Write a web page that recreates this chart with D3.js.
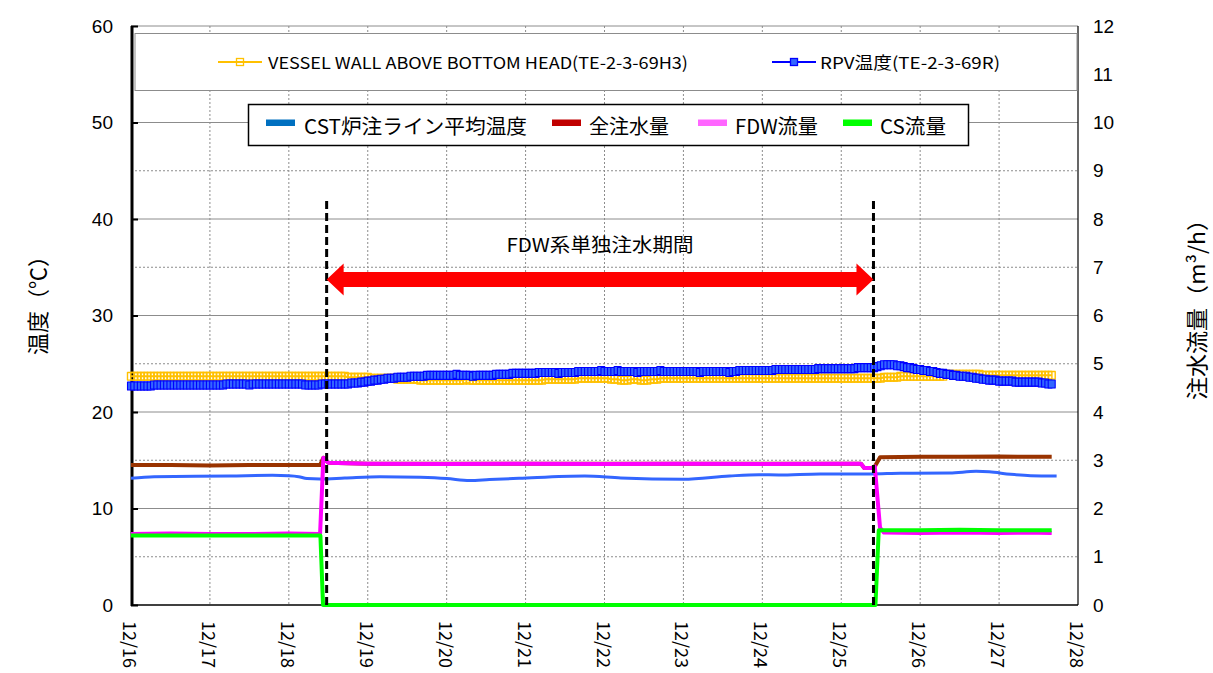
<!DOCTYPE html>
<html>
<head>
<meta charset="utf-8">
<script src="https://cdn.jsdelivr.net/npm/d3@7"></script>
<style>
  body { margin: 0; background: #ffffff; }
  text { font-family: "Noto Sans CJK JP", "Noto Sans", sans-serif; fill: #000; }
  .num { font-family: "Liberation Sans", Arial, sans-serif; }
</style>
</head>
<body>
<svg id="chart" width="1213" height="673"></svg>
<script>
// ---- data (time in hours from 12/16 00:00) ----
const dayLabels = ["12/16","12/17","12/18","12/19","12/20","12/21","12/22","12/23","12/24","12/25","12/26","12/27","12/28"];
const tempTicks = [0, 10, 20, 30, 40, 50, 60];
const flowTicks = [0, 1, 2, 3, 4, 5, 6, 7, 8, 9, 10, 11, 12];

// FDW-only injection period (start / end, hours)
const periodHours = [59.5, 225.8];
const periodLabel = "FDW系単独注水期間";

// RPV temperature TE-2-3-69R, hourly from 0 h to 280 h
const rpvTemp = [
  22.7,22.7,22.7,22.7,22.7,22.7,22.7,22.8,22.8,22.8,22.8,22.8,22.8,22.8,22.8,22.8,22.8,22.8,22.8,22.8,22.8,22.8,22.8,22.8,
  22.8,22.8,22.8,22.8,22.8,22.9,22.9,22.9,22.9,22.9,22.9,22.9,22.8,22.9,22.9,22.9,22.9,22.9,22.9,22.9,22.9,22.9,22.9,22.9,
  22.9,22.9,22.9,22.9,22.9,22.8,22.8,22.8,22.8,22.8,22.9,22.9,22.9,22.9,22.9,22.9,22.9,22.9,22.9,23.0,23.0,23.0,23.1,23.1,
  23.2,23.2,23.3,23.3,23.4,23.4,23.5,23.5,23.5,23.6,23.6,23.6,23.6,23.7,23.7,23.7,23.7,23.7,23.8,23.8,23.8,23.8,23.8,23.8,
  23.8,23.8,23.8,23.9,23.8,23.8,23.8,23.8,23.7,23.8,23.8,23.8,23.8,23.8,23.8,23.9,23.9,23.9,23.9,23.9,24.0,24.0,24.0,24.0,
  24.0,24.0,24.0,24.0,24.1,24.1,24.1,24.1,24.1,24.1,24.0,24.1,24.1,24.1,24.1,24.1,24.2,24.2,24.2,24.2,24.2,24.2,24.2,24.3,
  24.2,24.2,24.2,24.2,24.3,24.2,24.2,24.2,24.2,24.2,24.1,24.2,24.2,24.2,24.2,24.2,24.2,24.3,24.2,24.2,24.2,24.2,24.2,24.2,
  24.2,24.2,24.2,24.2,24.2,24.1,24.2,24.2,24.2,24.2,24.2,24.2,24.2,24.2,24.1,24.2,24.2,24.3,24.3,24.3,24.3,24.3,24.3,24.3,
  24.3,24.3,24.3,24.3,24.4,24.4,24.4,24.4,24.4,24.4,24.4,24.4,24.4,24.4,24.4,24.4,24.4,24.5,24.5,24.5,24.5,24.5,24.5,24.5,
  24.5,24.5,24.5,24.5,24.5,24.6,24.6,24.6,24.6,24.6,24.6,24.7,24.8,24.9,24.9,24.9,24.9,24.8,24.8,24.7,24.6,24.6,24.5,24.4,
  24.4,24.3,24.3,24.2,24.2,24.1,24.0,24.0,23.9,23.9,23.8,23.8,23.7,23.7,23.7,23.6,23.6,23.5,23.5,23.4,23.4,23.3,23.3,23.3,
  23.2,23.2,23.2,23.2,23.2,23.1,23.1,23.1,23.1,23.1,23.1,23.1,23.1,23.0,23.0,22.9,22.9
];

// Vessel wall above bottom head TE-2-3-69H3, hourly from 0 h to 280 h
const vesselTemp = [
  23.7,23.7,23.7,23.7,23.7,23.7,23.7,23.7,23.7,23.7,23.7,23.7,23.7,23.7,23.7,23.7,23.7,23.7,23.7,23.7,23.7,23.7,23.7,23.7,
  23.7,23.7,23.7,23.7,23.7,23.7,23.7,23.7,23.7,23.7,23.7,23.7,23.7,23.7,23.7,23.7,23.7,23.7,23.7,23.7,23.7,23.7,23.7,23.7,
  23.7,23.7,23.7,23.7,23.7,23.7,23.7,23.7,23.7,23.7,23.7,23.7,23.7,23.7,23.7,23.7,23.7,23.7,23.6,23.6,23.6,23.6,23.6,23.6,
  23.6,23.5,23.5,23.5,23.5,23.5,23.5,23.5,23.5,23.4,23.4,23.4,23.4,23.4,23.4,23.4,23.3,23.3,23.3,23.3,23.3,23.3,23.3,23.3,
  23.3,23.3,23.3,23.3,23.3,23.3,23.4,23.3,23.3,23.3,23.3,23.3,23.3,23.3,23.3,23.3,23.3,23.3,23.3,23.3,23.3,23.3,23.3,23.3,
  23.3,23.3,23.3,23.3,23.3,23.3,23.4,23.4,23.4,23.4,23.4,23.4,23.4,23.4,23.4,23.4,23.5,23.5,23.5,23.5,23.5,23.5,23.5,23.5,
  23.5,23.5,23.4,23.4,23.4,23.3,23.3,23.3,23.4,23.4,23.4,23.3,23.3,23.3,23.4,23.4,23.4,23.5,23.5,23.5,23.5,23.5,23.5,23.5,
  23.5,23.5,23.5,23.5,23.5,23.5,23.5,23.5,23.5,23.5,23.5,23.5,23.5,23.5,23.5,23.5,23.5,23.5,23.5,23.5,23.5,23.5,23.5,23.5,
  23.5,23.5,23.5,23.5,23.5,23.5,23.5,23.5,23.5,23.5,23.5,23.5,23.5,23.5,23.5,23.5,23.5,23.5,23.5,23.5,23.5,23.5,23.5,23.5,
  23.5,23.5,23.5,23.5,23.5,23.5,23.5,23.5,23.5,23.5,23.5,23.5,23.5,23.6,23.6,23.6,23.6,23.6,23.7,23.7,23.7,23.7,23.7,23.7,
  23.7,23.7,23.7,23.7,23.7,23.7,23.7,23.7,23.9,23.9,23.9,23.9,23.9,23.9,23.9,23.9,23.9,23.9,23.9,23.8,23.8,23.8,23.8,23.8,
  23.8,23.8,23.8,23.8,23.8,23.8,23.8,23.8,23.8,23.8,23.8,23.8,23.8,23.8,23.8,23.8,23.8
];

// CST injection line average temperature (°C)
const cstHours = [0,7,30,43,48,51,53.5,57.5,65,75.7,88,96,103,109,118,138,149,168,182,191,197,209.6,224.8,234,249,257,261,267.5,273.6,281.5];
const cstTemp  = [13.13,13.3,13.37,13.44,13.4,13.3,13.1,13.06,13.16,13.3,13.23,13.1,12.9,13.0,13.13,13.37,13.16,13.03,13.37,13.5,13.47,13.58,13.58,13.65,13.68,13.85,13.8,13.54,13.4,13.37];

// total injection flow (m3/h)
const totalHours = [0,12,24,36,48,57.5,58.5,60,72,96,120,144,168,192,216,222,223,225.3,226.2,227.8,240,252,264,272,280];
const totalFlow  = [2.90,2.90,2.89,2.90,2.90,2.90,3.05,2.95,2.93,2.93,2.93,2.93,2.93,2.93,2.93,2.93,2.84,2.84,2.87,3.06,3.07,3.07,3.08,3.07,3.07];

// FDW flow (m3/h)
const fdwHours = [0,12,24,36,48,57.5,58.5,60,72,96,120,144,168,192,216,222,223,225.3,226.2,227.8,229,240,252,264,272,280];
const fdwFlow  = [1.47,1.48,1.47,1.47,1.48,1.47,3.05,2.95,2.93,2.92,2.93,2.92,2.93,2.92,2.93,2.93,2.84,2.84,2.87,1.60,1.50,1.49,1.50,1.49,1.50,1.49];

// CS flow (m3/h)
const csHours = [0,12,24,36,48,57.6,58.4,72,120,168,216,226.4,227.4,240,252,264,280];
const csFlow  = [1.44,1.44,1.44,1.44,1.44,1.44,0,0,0,0,0,0,1.55,1.55,1.56,1.55,1.55];

const legendTopLabels = ["VESSEL WALL ABOVE BOTTOM HEAD(TE-2-3-69H3)", "RPV温度(TE-2-3-69R)"];
const legendBottomLabels = ["CST炉注ライン平均温度", "全注水量", "FDW流量", "CS流量"];
const yTitleLeft = "温度（℃）";
const yTitleRight = "注水流量（m³/h）";

// ---- layout ----
const svg = d3.select("#chart");
const plot = { left: 131, right: 1078, top: 26, bottom: 605 };

const x = d3.scaleLinear().domain([0, 288]).range([plot.left, plot.right]);
const yT = d3.scaleLinear().domain([0, 60]).range([plot.bottom, plot.top]);
const yF = d3.scaleLinear().domain([0, 12]).range([plot.bottom, plot.top]);

// grid: horizontal (solid on whole 10 °C, dotted on halves), vertical dotted per day
const grid = svg.append("g");
flowTicks.filter(v => v > 0).forEach(v => {
  grid.append("line")
    .attr("x1", plot.left).attr("x2", plot.right)
    .attr("y1", yF(v)).attr("y2", yF(v))
    .attr("stroke", "#8c8c8c")
    .attr("stroke-width", 1)
    .attr("stroke-dasharray", v % 2 === 0 ? null : "2,2");
});
dayLabels.forEach((d, i) => {
  if (i === 0 || i === dayLabels.length - 1) return;
  grid.append("line")
    .attr("x1", x(i * 24)).attr("x2", x(i * 24))
    .attr("y1", plot.top).attr("y2", plot.bottom)
    .attr("stroke", "#8c8c8c")
    .attr("stroke-width", 1)
    .attr("stroke-dasharray", "2,2");
});

// axes
const axL = svg.append("g").attr("transform", `translate(${plot.left},0)`)
  .call(d3.axisLeft(yT).tickValues(tempTicks).tickSize(-7).tickPadding(18).tickFormat(d3.format("d")));
axL.select(".domain").remove();
axL.selectAll(".tick line").attr("stroke", "#000").attr("stroke-width", 2);
axL.selectAll("text").attr("class", "num").style("font-size", "19px").attr("fill", "#000");
svg.append("line").attr("x1", plot.left + 1).attr("x2", plot.left + 1)
  .attr("y1", plot.top).attr("y2", plot.bottom + 1)
  .attr("stroke", "#000").attr("stroke-width", 3);

const axR = svg.append("g").attr("transform", `translate(${plot.right},0)`)
  .call(d3.axisRight(yF).tickValues(flowTicks).tickSize(0).tickPadding(15).tickFormat(d3.format("d")));
axR.select(".domain").remove();
axR.selectAll("text").attr("class", "num").style("font-size", "19px").attr("fill", "#000");
svg.append("line").attr("x1", plot.right).attr("x2", plot.right)
  .attr("y1", plot.top).attr("y2", plot.bottom)
  .attr("stroke", "#000").attr("stroke-width", 1.2);

svg.append("line").attr("x1", plot.left).attr("x2", plot.right)
  .attr("y1", plot.bottom).attr("y2", plot.bottom)
  .attr("stroke", "#000").attr("stroke-width", 1.5);

// day labels, rotated to read downward
svg.append("g").selectAll("text").data(dayLabels).join("text")
  .attr("transform", (d, i) => `translate(${x(i * 24)},621) rotate(90)`)
  .attr("dominant-baseline", "central")
  .style("font-size", "18px")
  .text(d => d);

// axis titles
svg.append("text")
  .attr("transform", "translate(36,300) rotate(-90)")
  .attr("text-anchor", "middle").attr("dominant-baseline", "central")
  .style("font-size", "22px")
  .attr("textLength", 110).attr("lengthAdjust", "spacingAndGlyphs")
  .text(yTitleLeft);
svg.append("text")
  .attr("transform", "translate(1195,304) rotate(-90)")
  .attr("text-anchor", "middle").attr("dominant-baseline", "central")
  .style("font-size", "22px")
  .attr("textLength", 192).attr("lengthAdjust", "spacingAndGlyphs")
  .text(yTitleRight);

// ---- series ----
const toPts = (hs, vs) => hs.map((h, i) => [h, vs[i]]);
const hourly = vs => vs.map((v, i) => [i, v]);

const lineT = d3.line().x(d => x(d[0])).y(d => yT(d[1]));
const lineF = d3.line().x(d => x(d[0])).y(d => yF(d[1]));
const smoothT = d3.line().x(d => x(d[0])).y(d => yT(d[1])).curve(d3.curveMonotoneX);

const series = svg.append("g").attr("fill", "none").attr("stroke-linejoin", "round");

series.append("path").datum(toPts(cstHours, cstTemp))
  .attr("d", smoothT).attr("stroke", "#3366ff").attr("stroke-width", 3);
series.append("path").datum(toPts(totalHours, totalFlow))
  .attr("d", lineF).attr("stroke", "#993300").attr("stroke-width", 4);
series.append("path").datum(toPts(fdwHours, fdwFlow))
  .attr("d", lineF).attr("stroke", "#ff00ff").attr("stroke-width", 4);
series.append("path").datum(toPts(csHours, csFlow))
  .attr("d", lineF).attr("stroke", "#00ff00").attr("stroke-width", 4);

// vessel wall: line with hollow square markers
const vesselPts = hourly(vesselTemp);
series.append("path").datum(vesselPts)
  .attr("d", lineT).attr("stroke", "#ffc000").attr("stroke-width", 2);
series.append("g").selectAll("rect").data(vesselPts).join("rect")
  .attr("x", d => x(d[0]) - 3.5).attr("y", d => yT(d[1]) - 3.8)
  .attr("width", 7).attr("height", 7.6)
  .attr("fill", "none").attr("stroke", "#ffc000").attr("stroke-width", 1.4);

// RPV: line with filled square markers
const rpvPts = hourly(rpvTemp);
series.append("path").datum(rpvPts)
  .attr("d", lineT).attr("stroke", "#0000ff").attr("stroke-width", 2);
series.append("g").selectAll("rect").data(rpvPts).join("rect")
  .attr("x", d => x(d[0]) - 3.5).attr("y", d => yT(d[1]) - 4)
  .attr("width", 7).attr("height", 8)
  .attr("fill", "#3366ff").attr("stroke", "#0000ff").attr("stroke-width", 1.1);

// ---- period annotation ----
const px0 = x(periodHours[0]), px1 = x(periodHours[1]);
periodHours.forEach(h => {
  svg.append("line")
    .attr("x1", x(h)).attr("x2", x(h))
    .attr("y1", 201).attr("y2", plot.bottom)
    .attr("stroke", "#000").attr("stroke-width", 3)
    .attr("stroke-dasharray", "8,4");
});
const ay = 279.5, shaft = 7.5, headH = 16, headL = 17;
svg.append("path")
  .attr("d", [
    [px0, ay], [px0 + headL, ay - headH], [px0 + headL, ay - shaft],
    [px1 - headL, ay - shaft], [px1 - headL, ay - headH], [px1, ay],
    [px1 - headL, ay + headH], [px1 - headL, ay + shaft],
    [px0 + headL, ay + shaft], [px0 + headL, ay + headH]
  ].map((p, i) => (i ? "L" : "M") + p[0] + "," + p[1]).join("") + "Z")
  .attr("fill", "#ff0000");
svg.append("text")
  .attr("x", (px0 + px1) / 2).attr("y", 243)
  .attr("text-anchor", "middle").attr("dominant-baseline", "central")
  .style("font-size", "19px")
  .attr("textLength", 187).attr("lengthAdjust", "spacingAndGlyphs")
  .text(periodLabel);

// ---- legends ----
const lg1 = svg.append("g");
lg1.append("rect").attr("x", 135).attr("y", 33.5).attr("width", 942).attr("height", 57)
  .attr("fill", "#fff").attr("stroke", "#8c8c8c").attr("stroke-width", 1);
const lg1Items = [
  { sx: 218, tx: 268, w: 420, color: "#ffc000", fill: "none" },
  { sx: 772, tx: 820, w: 180, color: "#0000ff", fill: "#3366ff" }
];
lg1Items.forEach((it, i) => {
  lg1.append("line").attr("x1", it.sx).attr("x2", it.sx + 44).attr("y1", 62).attr("y2", 62)
    .attr("stroke", it.color).attr("stroke-width", 2);
  lg1.append("rect").attr("x", it.sx + 18.5).attr("y", 58.5).attr("width", 7).attr("height", 7)
    .attr("fill", it.fill).attr("stroke", it.color).attr("stroke-width", 1.3);
  lg1.append("text").attr("x", it.tx).attr("y", 62).attr("dominant-baseline", "central")
    .style("font-size", "16.5px")
    .attr("textLength", it.w).attr("lengthAdjust", "spacingAndGlyphs")
    .text(legendTopLabels[i]);
});

const lg2 = svg.append("g");
lg2.append("rect").attr("x", 248.5).attr("y", 104.5).attr("width", 720).attr("height", 41)
  .attr("fill", "#fff").attr("stroke", "#000").attr("stroke-width", 1.5);
const lg2Items = [
  { sx: 266, tx: 304, w: 223, color: "#0070c0" },
  { sx: 552, tx: 589, w: 80, color: "#c00000" },
  { sx: 698, tx: 735, w: 83, color: "#ff66ff" },
  { sx: 843, tx: 880, w: 66, color: "#00ff00" }
];
lg2Items.forEach((it, i) => {
  lg2.append("rect").attr("x", it.sx).attr("y", 119.5).attr("width", 29).attr("height", 6.5)
    .attr("fill", it.color);
  lg2.append("text").attr("x", it.tx).attr("y", 125).attr("dominant-baseline", "central")
    .style("font-size", "20px")
    .attr("textLength", it.w).attr("lengthAdjust", "spacingAndGlyphs")
    .text(legendBottomLabels[i]);
});
</script>
</body>
</html>
